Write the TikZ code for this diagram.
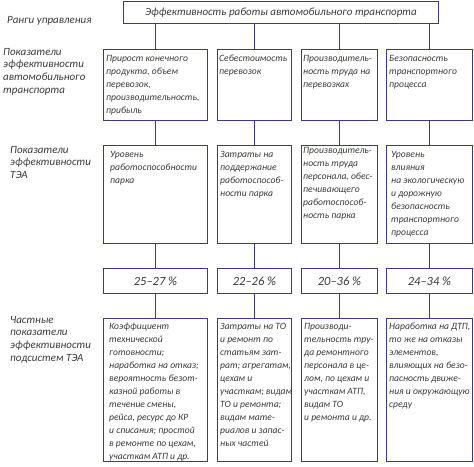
\documentclass[tikz,border=0pt]{standalone}
\usepackage{fontspec}
\setmainfont{Carlito}
\definecolor{bcol}{HTML}{3C3C7C}
\definecolor{tcol}{HTML}{3A3A3A}
\begin{document}
\begin{tikzpicture}[x=1pt,y=-1pt,
  bx/.style={draw=bcol, line width=1pt, inner sep=0pt, anchor=north west},
  txt/.style={text=tcol, font=\fontsize{9.6}{13}\selectfont\itshape, align=left, inner sep=0pt, anchor=north west},
  lbl/.style={text=tcol, font=\fontsize{11}{12.6}\selectfont\itshape, align=left, inner sep=0pt, anchor=north west},
  ttl/.style={text=tcol, font=\fontsize{11}{13}\selectfont\itshape},
  pct/.style={text=tcol, font=\fontsize{12.5}{13}\selectfont\itshape},
  ln/.style={draw=bcol, line width=1pt}]
\useasboundingbox (0,0) rectangle (474,466);
% top box
\node[bx, minimum width=315pt, minimum height=22pt] (top) at (123,1) {};
\node[ttl] (ttop) at (top.center) {Эффективность работы автомобильного транспорта};
% row 1
\node[bx, minimum width=104pt, minimum height=71pt] (a1) at (103,49) {};
\node[bx, minimum width=74pt, minimum height=71pt] (a2) at (217,49) {};
\node[bx, minimum width=76pt, minimum height=71pt] (a3) at (301,49) {};
\node[bx, minimum width=86pt, minimum height=71pt] (a4) at (386,49) {};
% row 2
\node[bx, minimum width=104pt, minimum height=98pt] (b1) at (103,145) {};
\node[bx, minimum width=74pt, minimum height=98pt] (b2) at (217,145) {};
\node[bx, minimum width=76pt, minimum height=98pt] (b3) at (301,145) {};
\node[bx, minimum width=86pt, minimum height=98pt] (b4) at (386,145) {};
% row 3
\node[bx, minimum width=104pt, minimum height=25pt] (c1) at (103,268) {};
\node[bx, minimum width=74pt, minimum height=25pt] (c2) at (217,268) {};
\node[bx, minimum width=76pt, minimum height=25pt] (c3) at (301,268) {};
\node[bx, minimum width=86pt, minimum height=25pt] (c4) at (386,268) {};
% row 4
\node[bx, minimum width=104pt, minimum height=143pt] (d1) at (103,318) {};
\node[bx, minimum width=74pt, minimum height=143pt] (d2) at (217,318) {};
\node[bx, minimum width=76pt, minimum height=143pt] (d3) at (301,318) {};
\node[bx, minimum width=86pt, minimum height=143pt] (d4) at (386,318) {};
% connectors
\foreach \i in {1,2,3,4}{
  \draw[ln] (top.south -| a\i.north) -- (a\i.north);
  \draw[ln] (a\i.south) -- (b\i.north);
  \draw[ln] (b\i.south) -- (c\i.north);
  \draw[ln] (c\i.south) -- (d\i.north);
}
% texts row 1
\node[txt, xshift=3pt, yshift=-6pt] (ta1) at (a1.north west) {Прирост конечного\\продукта, объем\\перевозок,\\производительность,\\прибыль};
\node[txt, xshift=2pt, yshift=-6pt] (ta2) at (a2.north west) {Себестоимость\\перевозок};
\node[txt, xshift=2pt, yshift=-6pt] (ta3) at (a3.north west) {Производитель-\\ность труда на\\перевозках};
\node[txt, xshift=3pt, yshift=-6pt] (ta4) at (a4.north west) {Безопасность\\транспортного\\процесса};
% texts row 2
\node[txt, xshift=7pt, yshift=-6pt] (tb1) at (b1.north west) {Уровень\\работоспособности\\парка};
\node[txt, xshift=3pt, yshift=-6pt] (tb2) at (b2.north west) {Затраты на\\поддержание\\работоспособ-\\ности парка};
\node[txt, xshift=2pt, yshift=-2pt] (tb3) at (b3.north west) {Производитель-\\ность труда\\персонала, обес-\\печивающего\\работоспособ-\\ность парка};
\node[txt, xshift=5pt, yshift=-6pt] (tb4) at (b4.north west) {Уровень\\влияния\\на экологическую\\и дорожную\\безопасность\\транспортного\\процесса};
% row 3
\node[pct] (tc1) at (c1.center) {25–27 \%};
\node[pct] (tc2) at (c2.center) {22–26 \%};
\node[pct] (tc3) at (c3.center) {20–36 \%};
\node[pct] (tc4) at (c4.center) {24–34 \%};
% row 4
\node[txt, xshift=6pt, yshift=-5pt] (td1) at (d1.north west) {Коэффициент\\технической\\готовности;\\наработка на отказ;\\вероятность безот-\\казной работы в\\течение смены,\\рейса, ресурс до КР\\и списания; простой\\в ремонте по цехам,\\участкам АТП и др.};
\node[txt, xshift=3pt, yshift=-5pt] (td2) at (d2.north west) {Затраты на ТО\\и ремонт по\\статьям зат-\\рат; агрегатам,\\цехам и\\участкам; видам\\ТО и ремонта;\\видам мате-\\риалов и запас-\\ных частей};
\node[txt, xshift=3pt, yshift=-5pt] (td3) at (d3.north west) {Производи-\\тельность тру-\\да ремонтного\\персонала в це-\\лом, по цехам и\\участкам АТП,\\видам ТО\\и ремонта и др.};
\node[txt, xshift=3pt, yshift=-5pt] (td4) at (d4.north west) {Наработка на ДТП,\\то же на отказы\\элементов,\\влияющих на безо-\\пасность движе-\\ния и окружающую\\среду};
% left labels
\node[lbl] (l1) at (7,16) {Ранги управления};
\node[lbl] (l2) at (3,48) {Показатели\\эффективности\\автомобильного\\транспорта};
\node[lbl] (l3) at (10,146) {Показатели\\эффективности\\ТЭА};
\node[lbl] (l4) at (10,316) {Частные\\показатели\\эффективности\\подсистем ТЭА};
\end{tikzpicture}
\end{document}
